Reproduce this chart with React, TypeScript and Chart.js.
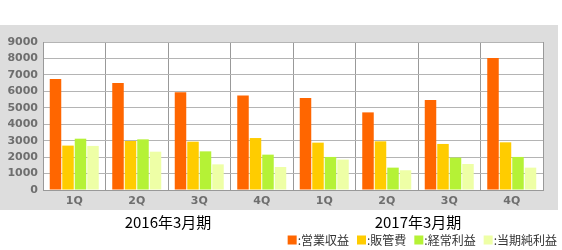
import React, { useEffect, useRef } from "react";
import { Chart, registerables } from "chart.js";

Chart.register(...registerables);

const categories = ["1Q", "2Q", "3Q", "4Q", "1Q", "2Q", "3Q", "4Q"];
const fiscalYears = ["2016年3月期", "2017年3月期"];
const revenue = [6750, 6510, 5940, 5740, 5600, 4720, 5470, 8030];
const sga = [2700, 2980, 2940, 3160, 2880, 2960, 2800, 2900];
const ordinaryProfit = [3120, 3080, 2350, 2150, 2010, 1360, 1970, 2010];
const netProfit = [2680, 2330, 1560, 1400, 1850, 1200, 1580, 1360];
const seriesNames = [":営業収益", ":販管費", ":経常利益", ":当期純利益"];
const seriesColors = ["#ff6600", "#ffcc00", "#b5f236", "#eeffa6"];

const panelPlugin = {
  id: "panel",
  beforeDraw(chart: any) {
    const { ctx, chartArea } = chart;
    ctx.save();
    ctx.fillStyle = "#dddddd";
    ctx.fillRect(0, 25, 558, 185);
    ctx.fillStyle = "#ffffff";
    ctx.fillRect(chartArea.left, chartArea.top, chartArea.right - chartArea.left, chartArea.bottom - chartArea.top);
    ctx.restore();
  },
  afterDraw(chart: any) {
    const { ctx } = chart;
    const xs = chart.scales.x;
    ctx.save();
    ctx.fillStyle = "#000000";
    ctx.font = "15px 'Noto Sans CJK JP'";
    ctx.textAlign = "center";
    ctx.textBaseline = "middle";
    fiscalYears.forEach((label, i) => {
      const cx = xs.getPixelForValue(i * 4 + 1.5);
      ctx.fillText(label, cx, 222);
    });
    ctx.font = "12px 'Noto Sans CJK JP'";
    ctx.textAlign = "left";
    const box = 9;
    const gapBox = 1;
    const gapItem = 8;
    const widths = seriesNames.map((n) => ctx.measureText(n).width);
    const total = widths.reduce((a, w) => a + box + gapBox + w, 0) + gapItem * (seriesNames.length - 1);
    let x = 557 - total;
    const y = 240;
    seriesNames.forEach((n, i) => {
      ctx.fillStyle = seriesColors[i];
      ctx.fillRect(x, y - box / 2, box, box);
      ctx.fillStyle = "#333333";
      ctx.fillText(n, x + box + gapBox, y);
      x += box + gapBox + widths[i] + gapItem;
    });
    ctx.restore();
  },
};

export default function App() {
  const ref = useRef<HTMLCanvasElement>(null);
  useEffect(() => {
    if (!ref.current) return;
    const data = [revenue, sga, ordinaryProfit, netProfit];
    const chart = new Chart(ref.current, {
      type: "bar",
      data: {
        labels: categories,
        datasets: data.map((d, i) => ({
          label: seriesNames[i],
          data: d,
          backgroundColor: seriesColors[i],
          borderWidth: 0,
          categoryPercentage: 0.8,
          barPercentage: 0.92,
        })),
      },
      options: {
        animation: false,
        responsive: false,
        layout: { padding: { left: 0, right: 19, top: 42, bottom: 40 } },
        plugins: { legend: { display: false }, tooltip: { enabled: false } },
        scales: {
          x: {
            grid: { color: "#999999", drawTicks: false, offset: true },
            border: { color: "#999999" },
            ticks: {
              color: "#6e6e6e",
              font: { family: "'DejaVu Sans'", size: 11, weight: "bold" },
              padding: 5,
            },
            afterFit(scale: any) {
              scale.height = 20;
            },
          },
          y: {
            min: 0,
            max: 9000,
            grid: { color: "#b4b4b4", drawTicks: false },
            border: { color: "#999999" },
            ticks: {
              stepSize: 1000,
              color: "#6e6e6e",
              font: { family: "'DejaVu Sans'", size: 11, weight: "bold" },
              padding: 5,
              callback: (v: any) => String(v),
            },
            afterFit(scale: any) {
              scale.width = 43;
            },
          },
        },
      },
      plugins: [panelPlugin],
    });
    return () => chart.destroy();
  }, []);
  return (
    <div style={{ position: "absolute", left: 0, top: 0, width: 562, height: 250, background: "#fff" }}>
      <canvas ref={ref} width={562} height={250} style={{ display: "block" }} />
    </div>
  );
}
